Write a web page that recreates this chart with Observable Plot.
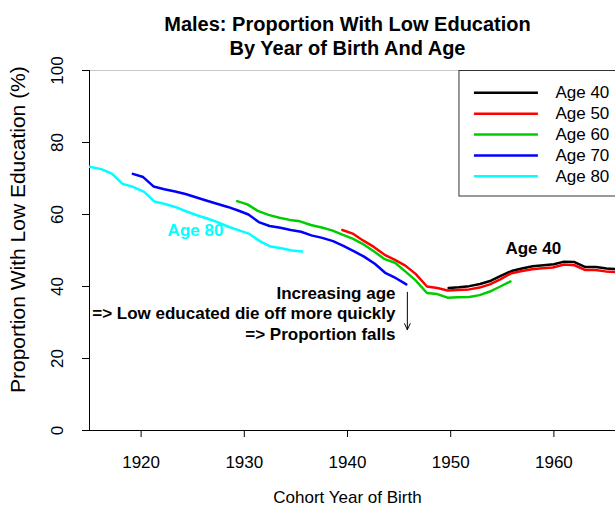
<!DOCTYPE html>
<html>
<head>
<meta charset="utf-8">
<script src="https://cdn.jsdelivr.net/npm/d3@7"></script>
<script src="https://cdn.jsdelivr.net/npm/@observablehq/plot@0.6"></script>
<style>
html, body { margin: 0; padding: 0; background: #fff; overflow: hidden; }
#chart svg { display: block; }
</style>
</head>
<body>
<div id="chart"></div>
<script>
const seriesNames = ["Age 40", "Age 50", "Age 60", "Age 70", "Age 80"];
const seriesColors = ["#000000", "#ff0000", "#00cd00", "#0000ff", "#00ffff"];

const age40Years = [1949.8,1950.8,1951.8,1952.85,1953.9,1954.9,1955.9,1956.9,1957.95,1959.0,1960.0,1961.0,1962.0,1963.05,1964.1,1965.1,1966.1];
const age40Values = [39.6,39.8,40.1,40.7,41.6,43.0,44.3,45.0,45.6,45.9,46.2,46.9,46.8,45.4,45.4,45.0,44.8];

const age50Years = [1939.5,1940.5,1941.5,1942.55,1943.6,1944.6,1945.6,1946.6,1947.7,1948.7,1949.7,1950.7,1951.8,1952.8,1953.8,1954.8,1955.8,1956.9,1957.9,1958.9,1959.9,1961.0,1962.0,1963.0,1964.0,1965.0,1966.1];
const age50Values = [55.7,54.7,52.8,51.0,48.8,47.4,45.8,43.5,40.0,39.6,38.9,39.0,39.2,39.7,40.6,42.0,43.6,44.3,44.8,45.1,45.3,46.1,45.9,44.6,44.6,44.2,44.0];

const age60Years = [1929.3,1930.3,1931.3,1932.35,1933.4,1934.4,1935.4,1936.45,1937.5,1938.5,1939.5,1940.5,1941.5,1942.55,1943.6,1944.6,1945.6,1946.6,1947.7,1948.7,1949.7,1950.7,1951.8,1952.8,1953.8,1954.8,1955.8];
const age60Values = [63.7,62.8,61.0,59.9,59.1,58.5,58.1,57.1,56.4,55.6,54.4,53.3,51.8,49.8,47.6,46.6,44.2,41.7,38.2,37.9,36.9,37.0,37.1,37.6,38.6,40.0,41.4];

const age70Years = [1919.2,1920.2,1921.2,1922.25,1923.3,1924.3,1925.3,1926.3,1927.35,1928.4,1929.4,1930.4,1931.4,1932.45,1933.5,1934.5,1935.5,1936.5,1937.55,1938.6,1939.6,1940.6,1941.6,1942.65,1943.7,1944.7,1945.7];
const age70Values = [71.3,70.4,67.8,67.0,66.4,65.7,64.8,63.9,63.0,62.1,61.1,60.0,57.9,56.8,56.3,55.7,55.2,54.2,53.5,52.6,51.3,49.8,48.3,46.3,43.7,42.3,40.6];

const age80Years = [1914.1,1915.1,1916.15,1917.2,1918.2,1919.2,1920.3,1921.3,1922.3,1923.3,1924.35,1925.4,1926.4,1927.4,1928.45,1929.5,1930.5,1931.5,1932.55,1933.6,1934.6,1935.6];
const age80Values = [73.6,73.2,72.6,71.3,68.5,67.7,66.3,63.6,62.9,62.1,60.9,59.8,58.9,57.9,56.6,55.6,54.6,52.6,51.1,50.6,50.0,49.7];

const xTicks = [1920, 1930, 1940, 1950, 1960];
const yTicks = [0, 20, 40, 60, 80, 100];

const titleLines = ["Males: Proportion With Low Education", "By Year of Birth And Age"];
const xLabel = "Cohort Year of Birth";
const yLabel = "Proportion With Low Education (%)";
const noteLines = ["Increasing age", "=> Low educated die off more quickly", "=> Proportion falls"];

const rows = [];
function addSeries(name, years, values) {
  years.forEach((yr, i) => rows.push({series: name, year: yr, value: values[i]}));
}
addSeries("Age 40", age40Years, age40Values);
addSeries("Age 50", age50Years, age50Values);
addSeries("Age 60", age60Years, age60Values);
addSeries("Age 70", age70Years, age70Values);
addSeries("Age 80", age80Years, age80Values);

const font = "'Liberation Sans', Arial, Helvetica, sans-serif";

const chart = Plot.plot({
  width: 615,
  height: 511,
  marginLeft: 89,
  marginRight: 0,
  marginTop: 70,
  marginBottom: 81,
  style: {fontFamily: font, fontSize: "17px", background: "#fff", color: "#000", overflow: "hidden"},
  x: {domain: [1915, 1965.97]},
  y: {domain: [0, 100]},
  color: {domain: seriesNames, range: seriesColors},
  marks: [
    // frame
    Plot.ruleY([100], {stroke: "#c8c8c8", strokeWidth: 1}),
    Plot.ruleY([0], {stroke: "#000", strokeWidth: 1}),
    Plot.ruleX([1915], {y1: 0, y2: 100, stroke: "#000", strokeWidth: 1}),
    // axes
    Plot.axisX({ticks: xTicks, tickSize: 7, tickPadding: 18, tickFormat: d => String(d), fontSize: 17, label: null}),
    Plot.axisY({ticks: yTicks, tickSize: 7, tickFormat: () => "", label: null}),
    Plot.text(yTicks, {frameAnchor: "left", y: d => d, dx: -32, rotate: -90, textAnchor: "middle", text: d => String(d), fontSize: 17}),
    // data lines
    Plot.line(rows, {x: "year", y: "value", z: "series", stroke: "series", strokeWidth: 2.5, clip: true}),
    // annotations
    Plot.text(["Age 80"], {x: 1925.27, y: 55.6, text: d => d, fill: "#00ffff", fontWeight: "bold", fontSize: 17}),
    Plot.text(["Age 40"], {x: 1958.0, y: 50.5, text: d => d, fill: "#000", fontWeight: "bold", fontSize: 17}),
    Plot.text(noteLines, {x: 1944.65, y: (d, i) => 38.1 - i * 5.7, text: d => d, textAnchor: "end", fontWeight: "bold", fontSize: 17}),
    Plot.arrow([{x: 1945.8, y1: 38.4, y2: 28.0}], {x1: "x", x2: "x", y1: "y1", y2: "y2", stroke: "#000", strokeWidth: 1, headLength: 10, headAngle: 50}),
    // legend
    Plot.rect([0], {x1: 1950.85, x2: 1968, y1: 65, y2: 99.86, fill: "#fff", stroke: "#333", strokeWidth: 1, clip: true}),
    Plot.ruleY(seriesNames, {y: (d, i) => 93.8 - i * 5.8, x1: 1952.3, x2: 1958.5, stroke: d => d, strokeWidth: 2.5}),
    Plot.text(seriesNames, {y: (d, i) => 93.8 - i * 5.8, x: 1960.15, text: d => d, textAnchor: "start", fontSize: 17}),
    // titles
    Plot.text([titleLines[0]], {frameAnchor: "top", dx: -5, dy: -54, text: d => d, fontWeight: "bold", fontSize: 20}),
    Plot.text([titleLines[1]], {frameAnchor: "top", dx: -5, dy: -30, text: d => d, fontWeight: "bold", fontSize: 20}),
    Plot.text([xLabel], {frameAnchor: "bottom", dx: -5, dy: 72, text: d => d, fontSize: 17}),
    Plot.text([yLabel], {frameAnchor: "left", y: 55.8, dx: -71.5, rotate: -90, textAnchor: "middle", text: d => d, fontSize: 21})
  ]
});
document.getElementById("chart").appendChild(chart);
</script>
</body>
</html>
